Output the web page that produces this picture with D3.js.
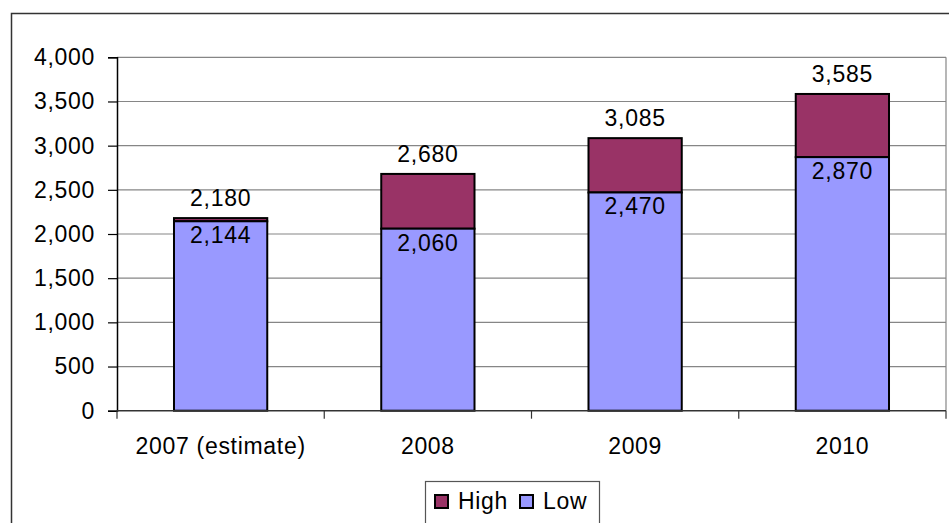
<!DOCTYPE html>
<html>
<head>
<meta charset="utf-8">
<script src="https://cdn.jsdelivr.net/npm/d3@7"></script>
<style>
  html, body { margin: 0; padding: 0; background: #fff; }
  svg { display: block; }
  text { font-family: "Liberation Sans", Arial, sans-serif; fill: #000; letter-spacing: 0.7px; }
</style>
</head>
<body>
<svg id="chart" width="949" height="523"></svg>
<script>
// Projected volumes per year: low estimate plus the extra for the high estimate
const categories = ["2007 (estimate)", "2008", "2009", "2010"];
const lowValues = [2144, 2060, 2470, 2870];
const highTotals = [2180, 2680, 3085, 3585];
const yTicks = [0, 500, 1000, 1500, 2000, 2500, 3000, 3500, 4000];
const seriesNames = ["High", "Low"];
const seriesColors = ["#993366", "#9999FF"];

const svg = d3.select("#chart");
const fontSize = 23;
const fmt = d3.format(",");

// Outer chart frame (extends past the right and bottom edges)
svg.append("rect")
  .attr("x", 11.5).attr("y", 13.5)
  .attr("width", 960).attr("height", 540)
  .attr("fill", "#fff").attr("stroke", "#333").attr("stroke-width", 1.5);

const plot = { left: 117, right: 946, top: 57.3, bottom: 410.7 };

const x = d3.scaleBand()
  .domain(categories)
  .range([plot.left, plot.right])
  .paddingInner(0.55)
  .paddingOuter(0.275);

const y = d3.scaleLinear()
  .domain([0, 4000])
  .range([plot.bottom, plot.top]);

// Gridlines
svg.append("g")
  .selectAll("line")
  .data(yTicks.filter(d => d > 0))
  .join("line")
  .attr("x1", plot.left).attr("x2", plot.right)
  .attr("y1", d => y(d)).attr("y2", d => y(d))
  .attr("stroke", "#868686").attr("stroke-width", 1.2);

// Right edge of plot area
svg.append("line")
  .attr("x1", plot.right).attr("x2", plot.right)
  .attr("y1", plot.top).attr("y2", plot.bottom)
  .attr("stroke", "#868686").attr("stroke-width", 1.2);

// Stacked bars
const stackData = categories.map((c, i) => ({
  cat: c, low: lowValues[i], total: highTotals[i]
}));

const bars = svg.append("g");
bars.selectAll("rect.high")
  .data(stackData)
  .join("rect")
  .attr("class", "high")
  .attr("x", d => x(d.cat))
  .attr("width", x.bandwidth())
  .attr("y", d => y(d.total))
  .attr("height", d => y(d.low) - y(d.total))
  .attr("fill", seriesColors[0])
  .attr("stroke", "#000").attr("stroke-width", 2);

bars.selectAll("rect.low")
  .data(stackData)
  .join("rect")
  .attr("class", "low")
  .attr("x", d => x(d.cat))
  .attr("width", x.bandwidth())
  .attr("y", d => y(d.low))
  .attr("height", d => y(0) - y(d.low))
  .attr("fill", seriesColors[1])
  .attr("stroke", "#000").attr("stroke-width", 2);

// Y axis
const yAxis = d3.axisLeft(y)
  .tickValues(yTicks)
  .tickFormat(fmt)
  .tickSize(9)
  .tickPadding(13);
const gy = svg.append("g")
  .attr("transform", `translate(${plot.left},0)`)
  .call(yAxis);
gy.select(".domain").attr("stroke", "#000").attr("stroke-width", 1.5);
gy.selectAll(".tick line").attr("stroke", "#000").attr("stroke-width", 1.2);
gy.selectAll(".tick text")
  .style("font-family", '"Liberation Sans", Arial, sans-serif')
  .style("font-size", fontSize + "px")
  .attr("fill", "#000");

// X axis baseline with tick marks between categories
const boundaries = d3.range(categories.length + 1)
  .map(i => plot.left + i * (plot.right - plot.left) / categories.length);
svg.append("line")
  .attr("x1", plot.left).attr("x2", plot.right)
  .attr("y1", plot.bottom).attr("y2", plot.bottom)
  .attr("stroke", "#333").attr("stroke-width", 1.5);
svg.append("g")
  .selectAll("line")
  .data(boundaries)
  .join("line")
  .attr("x1", d => d).attr("x2", d => d)
  .attr("y1", plot.bottom).attr("y2", plot.bottom + 8)
  .attr("stroke", "#333").attr("stroke-width", 1.2);

svg.append("g")
  .selectAll("text")
  .data(categories)
  .join("text")
  .attr("x", d => x(d) + x.bandwidth() / 2)
  .attr("y", 454)
  .attr("text-anchor", "middle")
  .style("font-size", fontSize + "px")
  .text(d => d);

// Value labels: total above the bar, low value inside the top of the low segment
svg.append("g")
  .selectAll("text")
  .data(stackData)
  .join("text")
  .attr("x", d => x(d.cat) + x.bandwidth() / 2)
  .attr("y", d => y(d.total) - 12)
  .attr("text-anchor", "middle")
  .style("font-size", fontSize + "px")
  .text(d => fmt(d.total));

svg.append("g")
  .selectAll("text")
  .data(stackData)
  .join("text")
  .attr("x", d => x(d.cat) + x.bandwidth() / 2)
  .attr("y", d => y(d.low) + 22)
  .attr("text-anchor", "middle")
  .style("font-size", fontSize + "px")
  .text(d => fmt(d.low));

// Legend
const legend = svg.append("g");
legend.append("rect")
  .attr("x", 425.5).attr("y", 481.5)
  .attr("width", 174).attr("height", 60)
  .attr("fill", "#fff").attr("stroke", "#555").attr("stroke-width", 1.2);
const legendItems = [
  { name: seriesNames[0], color: seriesColors[0], sx: 435, tx: 458 },
  { name: seriesNames[1], color: seriesColors[1], sx: 520, tx: 543 }
];
legend.selectAll("rect.sw")
  .data(legendItems)
  .join("rect")
  .attr("class", "sw")
  .attr("x", d => d.sx).attr("y", 495)
  .attr("width", 13).attr("height", 13)
  .attr("fill", d => d.color)
  .attr("stroke", "#000").attr("stroke-width", 2);
legend.selectAll("text")
  .data(legendItems)
  .join("text")
  .attr("x", d => d.tx).attr("y", 509)
  .style("font-size", fontSize + "px")
  .text(d => d.name);
</script>
</body>
</html>
